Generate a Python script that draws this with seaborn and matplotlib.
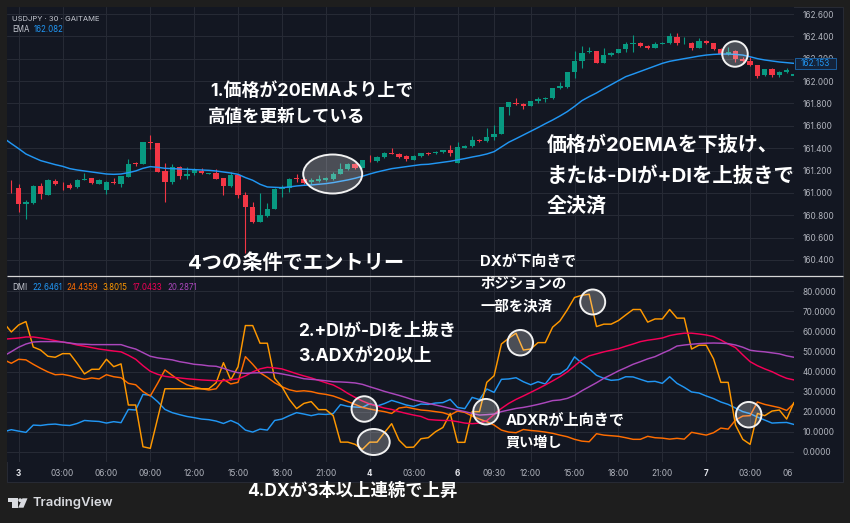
import numpy as np
import matplotlib
matplotlib.use("Agg")
import matplotlib.pyplot as plt
from matplotlib.patches import Ellipse, Polygon, Rectangle, Circle
import seaborn as sns

# USDJPY 30-minute candles, one value per bar
opens = [161.047,161.041,160.901,160.907,161.062,160.985,161.110,161.080,161.074,161.050,
         161.119,161.131,161.080,161.027,161.098,161.083,161.146,161.265,161.259,161.456,
         161.447,161.196,161.098,161.235,161.155,161.176,161.199,161.173,161.178,161.131,
         161.062,161.163,160.982,160.874,160.743,160.794,160.857,161.035,161.041,161.134,
         161.128,161.101,161.107,161.116,161.128,161.173,161.211,161.259,161.223,161.289,
         161.283,161.319,161.360,161.351,161.327,161.298,161.330,161.360,161.357,161.366,
         161.381,161.271,161.405,161.420,161.473,161.461,161.500,161.530,161.768,161.807,
         161.795,161.777,161.825,161.837,161.846,161.935,161.950,162.081,162.180,162.257,
         162.269,162.165,162.233,162.251,162.287,162.329,162.341,162.314,162.299,162.335,
         162.341,162.397,162.338,162.341,162.299,162.355,162.338,162.284,162.242,162.269,
         162.195,162.177,162.141,162.052,162.108,162.057,162.078,162.049]
highs = [161.116,161.080,160.937,161.071,161.092,161.122,161.122,161.101,161.086,161.122,
         161.176,161.137,161.122,161.104,161.137,161.155,161.303,161.280,161.459,161.518,
         161.447,161.271,161.259,161.244,161.229,161.220,161.220,161.181,161.211,161.134,
         161.184,161.169,161.012,160.922,160.997,160.907,161.041,161.071,161.131,161.169,
         161.146,161.131,161.161,161.146,161.184,161.271,161.265,161.265,161.295,161.339,
         161.330,161.366,161.399,161.357,161.339,161.336,161.360,161.366,161.372,161.387,
         161.429,161.459,161.426,161.509,161.482,161.584,161.607,161.771,161.816,161.846,
         161.807,161.825,161.861,161.855,161.938,161.995,162.084,162.269,162.314,162.308,
         162.269,162.293,162.263,162.290,162.347,162.412,162.347,162.323,162.347,162.352,
         162.427,162.427,162.397,162.352,162.382,162.367,162.344,162.293,162.302,162.278,
         162.218,162.218,162.144,162.108,162.114,162.093,162.114,162.069]
lows = [161.003,160.833,160.764,160.901,160.943,160.982,161.071,161.027,161.038,161.047,
        161.113,161.080,161.077,160.991,161.080,161.056,161.140,161.241,161.259,161.393,
        161.190,160.922,161.080,161.125,161.125,161.161,161.167,161.170,161.122,160.982,
        161.056,160.958,160.460,160.734,160.737,160.788,160.854,160.961,161.012,161.101,
        161.077,161.080,161.101,161.110,161.116,161.167,161.205,161.217,161.220,161.274,
        161.280,161.316,161.345,161.316,161.283,161.295,161.324,161.342,161.351,161.360,
        161.330,161.265,161.399,161.408,161.456,161.458,161.470,161.527,161.697,161.783,
        161.750,161.774,161.801,161.816,161.837,161.926,161.941,162.030,162.114,162.248,
        162.165,162.159,162.227,162.248,162.263,162.263,162.308,162.287,162.293,162.332,
        162.332,162.323,162.332,162.278,162.293,162.329,162.278,162.233,162.233,162.174,
        162.159,162.138,162.028,162.049,162.040,162.034,162.069,162.043]
closes = [161.044,160.901,160.916,161.062,160.988,161.113,161.077,161.077,161.047,161.119,
          161.128,161.086,161.113,161.098,161.086,161.149,161.259,161.259,161.456,161.447,
          161.190,161.098,161.232,161.152,161.173,161.205,161.176,161.178,161.125,161.062,
          161.163,160.982,160.874,160.743,160.800,160.860,161.038,161.041,161.128,161.125,
          161.086,161.113,161.122,161.134,161.173,161.211,161.259,161.226,161.292,161.283,
          161.319,161.360,161.351,161.321,161.306,161.330,161.354,161.351,161.366,161.381,
          161.360,161.411,161.420,161.473,161.461,161.500,161.530,161.768,161.813,161.792,
          161.777,161.822,161.837,161.846,161.935,161.956,162.081,162.180,162.248,162.269,
          162.165,162.233,162.254,162.287,162.329,162.338,162.317,162.299,162.335,162.344,
          162.400,162.338,162.344,162.299,162.358,162.338,162.284,162.242,162.263,162.198,
          162.180,162.147,162.049,162.105,162.055,162.081,162.102,162.063]

# Line series carry one extra leading value so they run off the left edge of the pane
ema20 = [161.488,161.441,161.396,161.348,161.318,161.289,161.271,161.253,161.238,161.217,
         161.205,161.196,161.187,161.178,161.169,161.166,161.169,161.181,161.196,161.220,
         161.235,161.229,161.220,161.217,161.214,161.211,161.208,161.205,161.202,161.196,
         161.187,161.178,161.166,161.137,161.113,161.077,161.053,161.050,161.047,161.053,
         161.062,161.068,161.071,161.077,161.083,161.092,161.104,161.116,161.131,161.149,
         161.169,161.187,161.202,161.217,161.226,161.235,161.244,161.253,161.256,161.265,
         161.274,161.283,161.295,161.307,161.321,161.333,161.348,161.369,161.411,161.453,
         161.485,161.518,161.551,161.584,161.619,161.652,161.688,161.727,161.774,161.825,
         161.861,161.894,161.932,161.968,162.004,162.040,162.063,162.087,162.111,162.135,
         162.159,162.177,162.189,162.201,162.212,162.224,162.233,162.239,162.242,162.242,
         162.239,162.233,162.218,162.201,162.189,162.180,162.171,162.165,162.159]
plus_di = [10.0,11.0,10.3,9.65,13.3,13.1,13.6,13.8,13.3,13.1,
           14.1,15.6,15.3,15.1,14.3,15.0,14.5,21.1,20.8,28.6,
           28.1,25.0,21.1,19.5,18.5,17.6,17.0,16.3,16.0,15.3,
           14.1,15.6,14.0,10.8,9.8,11.3,10.8,15.6,16.3,18.0,
           19.5,18.8,18.0,18.8,18.6,19.0,23.5,22.6,22.3,22.1,
           24.0,22.8,24.0,25.6,24.5,23.3,22.6,23.8,23.6,24.3,
           24.5,26.1,22.1,21.5,27.1,26.0,31.3,29.6,36.1,36.3,
           36.9,34.9,33.4,34.9,33.8,38.4,38.8,41.4,47.3,44.1,
           41.4,38.1,36.6,35.6,35.9,37.4,37.3,36.1,34.9,35.1,
           34.1,37.4,34.1,32.1,29.8,29.3,27.8,26.5,24.8,23.6,
           21.8,20.0,19.0,17.3,15.8,14.3,14.5,14.6,13.6]
minus_di = [45.8,44.1,46.1,45.8,43.6,41.6,39.8,38.4,38.6,37.9,
            36.9,36.1,36.8,36.3,38.4,37.4,36.9,34.1,33.4,30.0,
            27.8,34.1,40.8,38.1,35.4,33.4,32.3,31.4,30.8,31.4,
            36.1,33.8,34.6,47.4,43.6,39.4,37.1,34.4,32.4,30.9,
            30.1,30.4,30.0,29.1,28.6,27.8,26.5,25.0,23.6,22.1,
            21.3,20.6,20.0,19.1,21.8,22.3,21.5,20.8,20.5,20.0,
            19.5,18.3,20.3,19.6,17.8,16.3,15.0,13.3,10.8,9.8,
            9.5,11.1,10.6,10.3,9.8,9.2,8.3,7.5,6.2,5.3,
            5.0,9.0,8.3,8.0,7.7,7.0,6.2,6.2,7.7,7.0,
            6.8,6.3,6.7,6.3,9.7,9.0,8.3,9.5,11.8,11.3,
            15.8,17.8,18.0,24.8,23.6,22.8,22.0,20.6,24.1]
dx = [64.1,59.7,63.2,64.9,52.2,50.7,47.6,47.1,48.9,48.9,
      44.1,38.8,41.1,41.1,46.1,42.4,43.8,23.3,23.3,2.5,
      1.7,16.6,31.4,31.4,31.4,31.4,31.4,31.4,31.4,34.4,
      44.4,35.8,42.4,62.9,62.9,54.1,54.1,36.6,32.4,26.1,
      21.5,24.1,25.0,21.0,21.0,18.0,4.8,4.8,3.7,1.2,
      4.8,4.8,9.5,14.0,5.8,2.2,2.3,6.5,7.0,10.0,
      12.1,19.1,4.7,4.7,20.0,20.0,34.6,37.9,53.7,56.6,
      59.1,50.7,51.2,54.4,54.4,62.1,65.2,70.7,76.9,78.0,
      78.5,62.4,63.6,63.6,65.4,68.2,70.9,70.9,64.6,66.2,
      66.2,70.9,66.6,66.6,51.2,53.1,53.1,46.3,34.6,34.6,
      13.3,6.2,3.7,19.1,18.0,20.3,20.8,16.3,24.6]
adx = [56.1,56.4,56.7,57.2,57.2,56.7,56.1,55.4,54.7,54.1,
       53.2,52.6,51.9,51.2,50.7,50.2,49.8,48.1,46.1,42.9,
       40.1,38.6,37.6,37.1,36.8,36.4,36.1,35.8,35.6,35.4,
       35.4,35.9,36.3,37.8,39.8,41.3,42.1,41.8,41.3,40.1,
       38.9,37.8,36.8,35.6,34.4,33.3,31.4,29.1,27.1,25.3,
       23.8,22.8,21.8,21.1,20.0,19.1,18.3,17.6,16.1,15.8,
       15.6,15.6,15.0,14.3,14.0,14.3,15.5,18.6,21.6,24.1,
       26.1,27.8,29.6,31.4,33.3,35.3,37.4,39.8,42.8,45.8,
       47.8,48.8,49.8,50.6,51.4,52.6,53.7,54.9,55.6,56.1,
       56.7,57.9,58.6,59.1,59.1,58.7,58.2,57.4,55.7,53.7,
       51.9,48.3,44.9,42.9,41.3,39.9,38.1,36.6,35.8]
adxr = [47.8,49.9,52.1,53.7,54.7,54.9,54.9,54.9,54.7,54.2,
        53.7,53.6,53.4,53.4,53.4,53.4,53.4,52.2,51.2,49.4,
        47.6,46.8,46.3,45.8,44.9,44.3,43.6,43.3,42.8,42.6,
        41.6,40.3,39.4,39.1,39.3,39.4,39.6,39.4,38.8,38.1,
        37.3,36.4,36.1,35.8,35.4,34.9,34.8,34.6,34.3,33.6,
        32.4,31.3,30.1,29.1,28.1,27.0,25.8,25.0,24.1,23.3,
        22.5,21.6,20.8,20.0,19.1,18.3,18.5,18.8,20.0,20.8,
        21.6,22.1,22.8,23.6,24.5,25.5,25.8,26.6,28.1,30.4,
        32.4,34.4,36.6,38.4,40.3,41.9,43.6,44.9,46.3,47.4,
        49.1,50.7,52.7,53.2,53.6,53.9,54.1,54.2,54.1,53.9,
        53.2,52.1,50.6,50.1,49.8,49.3,48.8,47.8,47.1]

# Axis ticks: bar index and label of each time mark, plus the value scales
time_bars = [1, 7, 13, 19, 25, 31, 37, 43, 49, 55, 61, 66, 71, 77, 83, 89, 95, 101, 107]
time_labels = ["3", "03:00", "06:00", "09:00", "12:00", "15:00", "18:00", "21:00", "4", "03:00",
               "6", "09:30", "12:00", "15:00", "18:00", "21:00", "7", "03:00", "06:00"]
price_ticks = [160.4, 160.6, 160.8, 161.0, 161.2, 161.4, 161.6, 161.8, 162.0, 162.2, 162.4, 162.6]
dmi_ticks = [0, 10, 20, 30, 40, 50, 60, 70, 80]
last_price = "162.153"
ema_reading = "162.082"
dmi_readings = ["22.6461", "24.4359", "3.8015", "17.0433", "20.2871"]

BG = "#1e1e1e"
PANE = "#131722"
GRID = "#262a35"
UP = "#089981"
DOWN = "#f23645"
BLUE = "#2196f3"
C_MINUS = "#ff6d00"
C_DX = "#ff9800"
C_ADX = "#f50057"
C_ADXR = "#ab47bc"
LABEL = "#b2b5be"

sns.set_theme(style="darkgrid", rc={"axes.facecolor": PANE, "figure.facecolor": BG,
                                    "grid.color": GRID, "grid.linewidth": 0.75})
UI = ["Inter", "DejaVu Sans"]
NOTE = ["Inter", "Noto Sans CJK JP", "DejaVu Sans"]
plt.rcParams["font.family"] = UI

W, H = 850, 523
fig = plt.figure(figsize=(W / 100, H / 100), dpi=100, facecolor=BG)


def pane(x0, y0, x1, y1, zorder):
    return fig.add_axes([x0 / W, 1 - y1 / H, (x1 - x0) / W, (y1 - y0) / H], zorder=zorder)


back = pane(0, 0, W, H, 0)
back.set_xlim(0, W)
back.set_ylim(H, 0)
back.axis("off")
back.add_patch(Rectangle((7, 7), 836, 475, facecolor=PANE, edgecolor="#2a2e39", linewidth=0.6))

ax_price = pane(7, 7, 794, 275.5, 1)
ax_dmi = pane(7, 276, 794, 462, 1)

bars = np.arange(len(opens))
line_x = np.arange(len(ema20)) - 1
o, h, l, c = map(np.array, (opens, highs, lows, closes))
colors = np.where(c >= o, UP, DOWN)

ax_price.vlines(bars, l, h, colors=colors, linewidth=0.8, zorder=3)
ax_price.bar(bars, np.maximum(np.abs(c - o), 0.003), bottom=np.minimum(o, c),
             width=0.72, color=colors, linewidth=0, zorder=3)
sns.lineplot(x=line_x, y=ema20, ax=ax_price, color=BLUE, linewidth=1.05, errorbar=None, zorder=4)

for series, color in [(plus_di, BLUE), (minus_di, C_MINUS), (dx, C_DX), (adx, C_ADX), (adxr, C_ADXR)]:
    sns.lineplot(x=line_x, y=series, ax=ax_dmi, color=color, linewidth=1.05, errorbar=None, zorder=3)

ax_price.set_ylim(160.261, 162.663)
ax_dmi.set_ylim(-5.1, 87.6)
ax_price.set_yticks(price_ticks, [f"{t:.3f}" for t in price_ticks])
ax_dmi.set_yticks(dmi_ticks, [f"{t:.4f}" for t in dmi_ticks])

for ax in (ax_price, ax_dmi):
    ax.set_xlim(-0.59, 107)
    ax.set_facecolor(PANE)
    ax.set_xticks(time_bars)
    ax.grid(True, color=GRID, linewidth=0.75)
    ax.set_axisbelow(True)
    ax.yaxis.tick_right()
    ax.tick_params(axis="y", length=0, pad=6, labelsize=5.9, labelcolor=LABEL)
    for side in ax.spines.values():
        side.set_visible(False)
ax_price.tick_params(axis="x", length=0, labelbottom=False)
ax_dmi.tick_params(axis="x", length=0, labelbottom=False)

# Time labels sit on the strip under the lower pane; the last one runs off at the scale edge
for bar, text in zip(time_bars, time_labels):
    is_day = len(text) == 1
    label = ax_dmi.annotate(text, xy=(bar, 0), xycoords=ax_dmi.get_xaxis_transform(),
                            xytext=(0, -8.6), textcoords="offset points", ha="center", va="center",
                            fontsize=5.9, color="#e4e6ec" if is_day else LABEL,
                            fontweight="bold" if is_day else "normal", annotation_clip=False)
    if bar == time_bars[-1]:
        label.set_clip_on(True)
        label.set_clip_box(matplotlib.transforms.Bbox([[0, 0], [793, H]]))

top = pane(0, 0, W, H, 5)
top.set_xlim(0, W)
top.set_ylim(H, 0)
top.axis("off")
top.patch.set_visible(False)

top.plot([7, 843], [275.5, 275.5], color="#d6d6d6", linewidth=0.9, solid_capstyle="butt")

# Current price tag on the scale
top.add_patch(Rectangle((795, 58.3), 41, 11, facecolor="#14233a", edgecolor="#1c5f9e", linewidth=0.7))
top.text(815.5, 63.9, last_price, color=BLUE, fontsize=5.9, ha="center", va="center", family=UI)

# Pane legends
top.text(12, 18.7, "USDJPY · 30 · GAITAME", color="#c4c7d0", fontsize=5.5, va="center")
top.text(12, 30, "EMA", color="#c4c7d0", fontsize=5.7, va="center")
top.text(34, 30, ema_reading, color=BLUE, fontsize=5.7, va="center")
top.text(12, 287.7, "DMI", color="#c4c7d0", fontsize=5.7, va="center")
for x, text, color in zip([32, 66.5, 102.5, 133, 167], dmi_readings,
                          [BLUE, C_MINUS, C_DX, C_ADX, C_ADXR]):
    top.text(x, 287.7, text, color=color, fontsize=5.7, va="center")

# Highlight rings around the marked setups
RING = dict(facecolor=(1, 1, 1, 0.24), edgecolor="#f2f2f2", linewidth=1.4)
for cx, cy, ew, eh in [(332.7, 174, 59, 39), (735, 54, 25.5, 25.5), (364.3, 409, 25.5, 25.5),
                       (373.7, 442, 32, 26), (486, 411.7, 25.5, 25.5), (520.3, 342.7, 25.5, 25.5),
                       (592.7, 302, 25, 25), (748.7, 414.7, 25.5, 25.5)]:
    top.add_patch(Ellipse((cx, cy), ew, eh, **RING))

# Strategy notes
notes = [
    (210, 91, "1.価格が20EMAより上で", 12.9),
    (208, 117, "高値を更新している", 12.6),
    (188, 263, "4つの条件でエントリー", 14.6),
    (547, 145, "価格が20EMAを下抜け、", 14.4),
    (547, 176, "または-DIが+DIを上抜きで", 14.7),
    (547, 206, "全決済", 14.4),
    (480, 262.6, "DXが下向きで", 10.7),
    (480, 284, "ポジションの", 10.4),
    (480, 306, "一部を決済", 10.4),
    (298, 331.7, "2.+DIが-DIを上抜き", 12.5),
    (298, 357, "3.ADXが20以上", 12.8),
    (246.7, 491, "4.DXが3本以上連続で上昇", 12.5),
    (506, 420.7, "ADXRが上向きで", 10.9),
    (506, 442.7, "買い増し", 10.2),
]
for x, y, text, size in notes:
    top.text(x, y, text, color="white", fontsize=size, family=NOTE, fontweight="bold", va="center")

# TradingView mark and wordmark
MARK = "#d9dbe0"
top.add_patch(Polygon([(8, 498.3), (17.7, 498.3), (17.7, 507.7), (12.3, 507.7), (12.3, 501.8), (8, 501.8)],
                      facecolor=MARK, edgecolor="none"))
top.add_patch(Circle((20.2, 500.2), 1.9, facecolor=MARK, edgecolor="none"))
top.add_patch(Polygon([(27.5, 498.3), (23.5, 507.7), (18.2, 507.7), (22.4, 498.3)], facecolor=MARK, edgecolor="none"))
top.text(32.5, 503, "TradingView", color=MARK, fontsize=9.4, family=UI,
         fontweight="semibold", va="center")

fig.savefig("out.png", dpi=100, facecolor=BG)
